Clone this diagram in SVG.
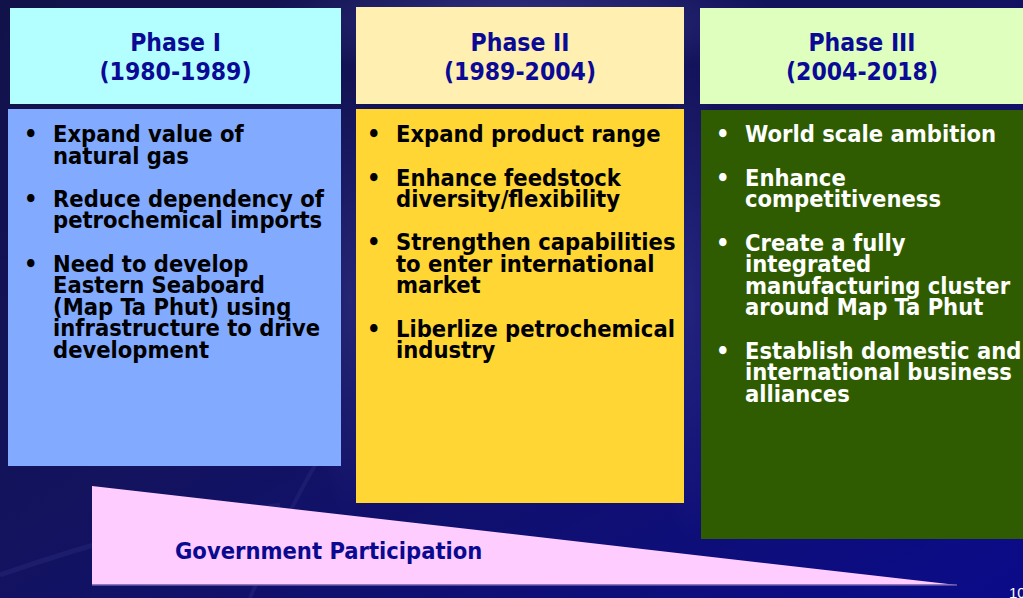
<svg xmlns="http://www.w3.org/2000/svg" width="1023" height="598" viewBox="0 0 1023 598">
  <defs>
    <linearGradient id="bg" x1="0" y1="0" x2="1" y2="1">
      <stop offset="0" stop-color="#12124a"/>
      <stop offset="0.45" stop-color="#13135e"/>
      <stop offset="1" stop-color="#0b0b8a"/>
    </linearGradient>
    <radialGradient id="glow" cx="0.5" cy="0.5" r="0.5">
      <stop offset="0" stop-color="#4a4aa8" stop-opacity="0.55"/>
      <stop offset="1" stop-color="#4a4aa8" stop-opacity="0"/>
    </radialGradient>
    <style>
      .hdr { font-family: "DejaVu Sans Condensed", "DejaVu Sans", sans-serif; font-weight: bold; font-size: 24.5px; fill: #0a0a96; text-anchor: middle; }
      .body { font-family: "DejaVu Sans Condensed", "DejaVu Sans", sans-serif; font-weight: bold; font-size: 23.5px; }
      .dark { fill: #000000; }
      .light { fill: #ffffff; }
      .gov { font-family: "DejaVu Sans Condensed", "DejaVu Sans", sans-serif; font-weight: bold; font-size: 23.5px; fill: #0a0a90; }
    </style>
  </defs>

  <!-- backdrop -->
  <rect x="0" y="0" width="1023" height="598" fill="url(#bg)"/>
  <ellipse cx="520" cy="20" rx="260" ry="60" fill="url(#glow)"/>
  <ellipse cx="350" cy="300" rx="40" ry="220" fill="url(#glow)" opacity="0.6"/>
  <ellipse cx="690" cy="300" rx="40" ry="240" fill="url(#glow)" opacity="0.6"/>
  <path d="M0,575 C100,540 180,520 280,505" fill="none" stroke="#3a3a90" stroke-width="5" stroke-opacity="0.25"/>
  <path d="M250,598 C275,540 295,500 315,465" fill="none" stroke="#3a3a90" stroke-width="4" stroke-opacity="0.25"/>

  <!-- Phase I -->
  <g id="phase1">
    <rect x="10" y="8" width="331" height="96" fill="#b3ffff"/>
    <text class="hdr" x="175.5" y="51">Phase I</text>
    <text class="hdr" x="175.5" y="80">(1980-1989)</text>
    <rect x="8" y="109" width="333" height="357" fill="#82aaff"/>
    <text class="body dark">
      <tspan x="24" y="142">•</tspan><tspan x="53" y="142">Expand value of</tspan>
      <tspan x="53" y="163.5">natural gas</tspan>
      <tspan x="24" y="206.5">•</tspan><tspan x="53" y="206.5">Reduce dependency of</tspan>
      <tspan x="53" y="228">petrochemical imports</tspan>
      <tspan x="24" y="271.5">•</tspan><tspan x="53" y="271.5">Need to develop</tspan>
      <tspan x="53" y="293">Eastern Seaboard</tspan>
      <tspan x="53" y="314.5">(Map Ta Phut) using</tspan>
      <tspan x="53" y="336">infrastructure to drive</tspan>
      <tspan x="53" y="357.5">development</tspan>
    </text>
  </g>

  <!-- Phase II -->
  <g id="phase2">
    <rect x="356" y="7" width="328" height="97" fill="#ffefb0"/>
    <text class="hdr" x="520" y="51">Phase II</text>
    <text class="hdr" x="520" y="80">(1989-2004)</text>
    <rect x="356" y="109" width="328" height="394" fill="#ffd633"/>
    <text class="body dark">
      <tspan x="367" y="142">•</tspan><tspan x="396" y="142">Expand product range</tspan>
      <tspan x="367" y="185.5">•</tspan><tspan x="396" y="185.5">Enhance feedstock</tspan>
      <tspan x="396" y="207">diversity/flexibility</tspan>
      <tspan x="367" y="250">•</tspan><tspan x="396" y="250">Strengthen capabilities</tspan>
      <tspan x="396" y="271.5">to enter international</tspan>
      <tspan x="396" y="293">market</tspan>
      <tspan x="367" y="336.5">•</tspan><tspan x="396" y="336.5">Liberlize petrochemical</tspan>
      <tspan x="396" y="358">industry</tspan>
    </text>
  </g>

  <!-- Phase III -->
  <g id="phase3">
    <rect x="700" y="8" width="323" height="96" fill="#dfffbf"/>
    <text class="hdr" x="862" y="51">Phase III</text>
    <text class="hdr" x="862" y="80">(2004-2018)</text>
    <rect x="701" y="110" width="322" height="429" fill="#2f5c00"/>
    <text class="body light">
      <tspan x="716" y="142">•</tspan><tspan x="745" y="142">World scale ambition</tspan>
      <tspan x="716" y="185.5">•</tspan><tspan x="745" y="185.5">Enhance</tspan>
      <tspan x="745" y="207">competitiveness</tspan>
      <tspan x="716" y="250.5">•</tspan><tspan x="745" y="250.5">Create a fully</tspan>
      <tspan x="745" y="272">integrated</tspan>
      <tspan x="745" y="293.5">manufacturing cluster</tspan>
      <tspan x="745" y="315">around Map Ta Phut</tspan>
      <tspan x="716" y="358.5">•</tspan><tspan x="745" y="358.5">Establish domestic and</tspan>
      <tspan x="745" y="380">international business</tspan>
      <tspan x="745" y="401.5">alliances</tspan>
    </text>
  </g>

  <!-- Government participation wedge -->
  <g id="government">
    <polygon points="92,486 957,585 92,585" fill="#ffccff"/>
    <line x1="92" y1="585" x2="957" y2="585" stroke="#6a5aa8" stroke-width="1.5"/>
    <text class="gov" x="175" y="559">Government Participation</text>
  </g>

  <text x="1009" y="598" font-family="Liberation Sans, sans-serif" font-size="15" fill="#ffffff">10</text>
</svg>
